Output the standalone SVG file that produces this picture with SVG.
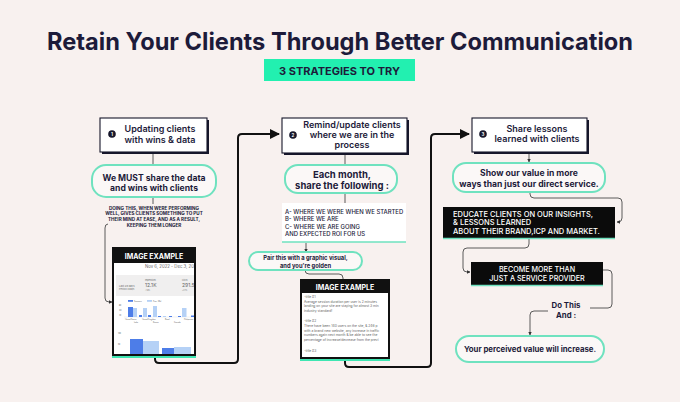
<svg xmlns="http://www.w3.org/2000/svg" width="680" height="402" viewBox="0 0 680 402">
<style>
.t{font-family:Inter,"Open Sans","Liberation Sans",sans-serif;fill:#1d1b3a}
.b{font-weight:700}
.sb{font-weight:600}
.box{fill:#fff;stroke:#16162a;stroke-width:1.1}
.sh{fill:#16162a}
.pill{fill:#fbf8f7;stroke:#6fe2bf;stroke-width:2}
.conn{fill:none;stroke:#4a4a4a;stroke-width:0.9}
.big{fill:none;stroke:#111;stroke-width:2}
.blk{fill:#0b0b0b}
.w{fill:#fff}
.g{fill:#666}
.num{fill:#16162a}
</style>
<defs>
<marker id="ab" viewBox="0 0 10 10" refX="9" refY="5" markerWidth="5" markerHeight="5" orient="auto" markerUnits="strokeWidth"><path d="M0,0 L10,5 L0,10 z" fill="#111"/></marker>
<marker id="as" viewBox="0 0 10 10" refX="9" refY="5" markerWidth="4" markerHeight="4" orient="auto" markerUnits="strokeWidth"><path d="M0,0 L10,5 L0,10 z" fill="#333"/></marker>
<clipPath id="c1"><rect x="114" y="263" width="80" height="91"/></clipPath>
<clipPath id="c2"><rect x="302" y="293" width="86" height="64"/></clipPath>
</defs>
<rect width="680" height="402" fill="#f8f1ef"/>

<g id="title">
<text class="t b" x="340" y="50" font-size="24" text-anchor="middle" textLength="586" lengthAdjust="spacingAndGlyphs" fill="#15153a">Retain Your Clients Through Better Communication</text>
<rect x="264" y="59" width="151" height="22" fill="#22f0b0"/>
<text class="t b" x="339.5" y="74.5" font-size="11" text-anchor="middle">3 STRATEGIES TO TRY</text>
</g>

<g id="connectors">
<line class="conn" x1="153" y1="152" x2="153" y2="165"/>
<line class="conn" x1="153" y1="197" x2="153" y2="204"/>
<path class="conn" d="M108,224 Q105,224 105,228 L105,298 Q105,302 109,302 L112,302" marker-end="url(#as)"/>
<path class="big" d="M155,358 L155,359 Q155,363 159,363 L234,363 Q238,363 238,359 L238,138 Q238,134 242,134 L279,134" marker-end="url(#ab)"/>
<line class="conn" x1="345" y1="153" x2="345" y2="165"/>
<line class="conn" x1="345" y1="193" x2="345" y2="203"/>
<line class="conn" x1="306" y1="243" x2="306" y2="252" marker-end="url(#as)"/>
<path class="conn" d="M305,270 Q305,274 309,274 L339,274 Q343,274 343,278 L343,280"/>
<path class="big" d="M345,361 L345,363 Q345,367 349,367 L427,367 Q431,367 431,363 L431,138 Q431,134 435,134 L469,134" marker-end="url(#ab)"/>
<line class="conn" x1="529" y1="152" x2="529" y2="162" marker-end="url(#as)"/>
<path class="conn" d="M530,192 L530,194 Q530,198 534,198 L618,198 Q622,198 622,202 L622,218 Q622,222 618,222 L617,222" marker-end="url(#as)"/>
<path class="conn" d="M529,239 L529,244 Q529,248 525,248 L467,248 Q463,248 463,252 L463,268 Q463,272 467,272 L470,272" marker-end="url(#as)"/>
<path class="conn" d="M603,270 L608,270 Q612,270 612,274 L612,304 Q612,308 608,308 L590,308"/>
<path class="conn" d="M548,311 L534,311 Q530,311 530,315 L530,335" marker-end="url(#as)"/>
</g>

<g id="box1">
<rect class="sh" x="102" y="120" width="107" height="34"/>
<rect class="box" x="100" y="118" width="107" height="34"/>
<circle class="num" cx="112" cy="134" r="3.8"/>
<text class="t b w" x="112" y="135.6" font-size="4.5" text-anchor="middle">1</text>
<text class="t sb" x="160" y="132" font-size="9" text-anchor="middle">Updating clients</text>
<text class="t sb" x="160" y="142.5" font-size="9" text-anchor="middle">with wins &amp; data</text>
</g>

<g id="pill1">
<rect class="pill" x="92" y="165" width="124" height="32" rx="14"/>
<text class="t b" x="154" y="181" font-size="8.6" text-anchor="middle">We MUST share the data</text>
<text class="t b" x="154" y="191" font-size="8.6" text-anchor="middle">and wins with clients</text>
</g>

<g id="note1">
<text class="t b" x="154" y="209.8" font-size="4.6" text-anchor="middle">DOING THIS, WHEN WERE PERFORMING</text>
<text class="t b" x="154" y="215.4" font-size="4.6" text-anchor="middle">WELL, GIVES CLIENTS SOMETHING TO PUT</text>
<text class="t b" x="154" y="221" font-size="4.6" text-anchor="middle">THEIR MIND AT EASE, AND AS A RESULT,</text>
<text class="t b" x="154" y="226.6" font-size="4.6" text-anchor="middle">KEEPING THEM LONGER</text>
</g>

<g id="image1">
<rect x="112" y="354" width="84" height="4" fill="#3fe6b2"/>
<rect x="113" y="248" width="82" height="107" fill="#fff" stroke="#111" stroke-width="2"/>
<rect x="113" y="248" width="82" height="15" fill="#111"/>
<text class="t b w" x="154" y="258.5" font-size="7" text-anchor="middle">IMAGE EXAMPLE</text>
<g clip-path="url(#c1)">
<text class="t g" x="145" y="268" font-size="4.3">Nov 6, 2022 - Dec 3, 2022</text>
<rect x="116" y="275" width="80" height="21" fill="#f0efef"/>
<text class="t g" x="119" y="287" font-size="2.6">Last 28 days</text>
<text class="t g" x="119" y="290" font-size="1.9">Previous 28 days</text>
<text class="t g" x="145" y="280.5" font-size="1.9">Impressions</text>
<text class="t g" x="145" y="286.5" font-size="5">12.1K</text>
<text class="t g" x="145" y="290.5" font-size="1.9">-1.8%</text>
<text class="t g" x="182" y="280.5" font-size="1.9">Clicks</text>
<text class="t g" x="182" y="286.5" font-size="5">291.5</text>
<text class="t g" x="182" y="290.5" font-size="1.9">+2.1%</text>
<rect x="128" y="300" width="5" height="1.8" fill="#4d7de8"/>
<text class="t g" x="134" y="301.6" font-size="1.8">Sessions</text>
<rect x="147" y="300" width="5" height="1.8" fill="#b5d1f6"/>
<text class="t g" x="153" y="301.6" font-size="1.8">Prev. 28d</text>
<text class="t g" x="119" y="306" font-size="1.8">60</text>
<text class="t g" x="119" y="311" font-size="1.8">40</text>
<text class="t g" x="119" y="316" font-size="1.8">20</text>
<line x1="124" y1="317" x2="196" y2="317" stroke="#ccc" stroke-width="0.3"/>
<rect x="128" y="307" width="5" height="10" fill="#4d7de8"/>
<rect x="133" y="308" width="4" height="9" fill="#b5d1f6"/>
<rect x="139" y="315" width="3" height="2" fill="#4d7de8"/>
<rect x="143" y="308" width="4" height="9" fill="#b5d1f6"/>
<rect x="148" y="315" width="3" height="2" fill="#4d7de8"/>
<rect x="153" y="306" width="4" height="11" fill="#b5d1f6"/>
<rect x="158" y="316" width="3" height="1" fill="#4d7de8"/>
<rect x="163" y="316" width="3" height="1" fill="#b5d1f6"/>
<rect x="169" y="316" width="3" height="1" fill="#4d7de8"/>
<rect x="178" y="316" width="3" height="1" fill="#4d7de8"/>
<rect x="182" y="308" width="4.5" height="9" fill="#b5d1f6"/>
<rect x="191" y="315.5" width="3" height="1.5" fill="#4d7de8"/>
<rect x="195" y="308" width="4" height="9" fill="#b5d1f6"/>
<text class="t g" x="125" y="320" font-size="1.8">United States</text>
<text class="t g" x="142" y="320" font-size="1.8">United Kingdom</text>
<text class="t g" x="165" y="320" font-size="1.8">Brazil</text>
<text class="t g" x="184" y="320" font-size="1.8">Philippines</text>
<text class="t g" x="134" y="323" font-size="1.8">India</text>
<text class="t g" x="153" y="323" font-size="1.8">Russia</text>
<text class="t g" x="174" y="323" font-size="1.8">Canada</text>
<text class="t g" x="118" y="334" font-size="1.8">100</text>
<text class="t g" x="118" y="345" font-size="1.8">50</text>
<rect x="130" y="339" width="13" height="15" fill="#4d7de8"/>
<rect x="143" y="341" width="16" height="13" fill="#b5d1f6"/>
<rect x="162" y="348" width="12" height="6" fill="#4d7de8"/>
<rect x="174" y="347" width="17" height="7" fill="#b5d1f6"/>
</g>
</g>

<g id="box2">
<rect class="sh" x="284" y="120" width="125" height="35"/>
<rect class="box" x="282" y="118" width="125" height="35"/>
<circle class="num" cx="293" cy="135" r="3.8"/>
<text class="t b w" x="293" y="136.6" font-size="4.5" text-anchor="middle">2</text>
<text class="t sb" x="352" y="128" font-size="9" text-anchor="middle">Remind/update clients</text>
<text class="t sb" x="352" y="138" font-size="9" text-anchor="middle">where we are in the</text>
<text class="t sb" x="352" y="148" font-size="9" text-anchor="middle">process</text>
</g>

<g id="pill2">
<rect class="pill" x="285" y="165" width="112" height="28" rx="13"/>
<text class="t b" x="342" y="178" font-size="9.5" text-anchor="middle">Each month,</text>
<text class="t b" x="342" y="189" font-size="9.5" text-anchor="middle">share the following :</text>
</g>

<g id="list2">
<rect x="282" y="203" width="124" height="39" fill="#fff"/>
<line x1="282" y1="242" x2="406" y2="242" stroke="#6fe2bf" stroke-width="1.5"/>
<text class="t" x="285" y="213.5" font-size="5.9" font-weight="500">A- WHERE WE WERE WHEN WE STARTED</text>
<text class="t" x="285" y="221" font-size="5.9" font-weight="500">B- WHERE WE ARE</text>
<text class="t" x="285" y="228.5" font-size="5.9" font-weight="500">C- WHERE WE ARE GOING</text>
<text class="t" x="285" y="236" font-size="5.9" font-weight="500">AND EXPECTED ROI FOR US</text>
</g>

<g id="pill2b">
<rect class="pill" x="249" y="252" width="113" height="18" rx="9" stroke-width="1.6"/>
<text class="t b" x="305.5" y="260" font-size="5.8" text-anchor="middle">Pair this with a graphic visual,</text>
<text class="t b" x="305.5" y="267.5" font-size="5.8" text-anchor="middle">and you're golden</text>
</g>

<g id="image2">
<rect x="300" y="357" width="90" height="4" fill="#3fe6b2"/>
<rect x="301" y="280" width="88" height="78" fill="#fff" stroke="#111" stroke-width="2"/>
<rect x="301" y="280" width="88" height="13" fill="#111"/>
<text class="t b w" x="345" y="289.5" font-size="7" text-anchor="middle">IMAGE EXAMPLE</text>
<g clip-path="url(#c2)">
<text class="t g" x="304" y="297.5" font-size="3.3">-title #1</text>
<text class="t g" x="304" y="302.5" font-size="3.3">Average session duration per user is 2 minutes</text>
<text class="t g" x="304" y="307" font-size="3.3">landing on your site are staying for almost 3 min</text>
<text class="t g" x="304" y="311.5" font-size="3.3">industry standard!</text>
<text class="t g" x="304" y="321.5" font-size="3.3">-title #2</text>
<text class="t g" x="304" y="327" font-size="3.3">There have been 140 users on the site, &amp; 246 p</text>
<text class="t g" x="304" y="331.5" font-size="3.3">with a brand new website, any increase in traffic</text>
<text class="t g" x="304" y="336" font-size="3.3">numbers again next month &amp; be able to see the</text>
<text class="t g" x="304" y="340.5" font-size="3.3">percentage of increase/decrease from the previ</text>
<text class="t g" x="304" y="351.5" font-size="3.3">-title #3</text>
</g>
</g>

<g id="box3">
<rect class="sh" x="474" y="120" width="115" height="34"/>
<rect class="box" x="472" y="118" width="115" height="34"/>
<circle class="num" cx="483" cy="134" r="3.8"/>
<text class="t b w" x="483" y="135.6" font-size="4.5" text-anchor="middle">3</text>
<text class="t sb" x="537" y="131.5" font-size="9" text-anchor="middle">Share lessons</text>
<text class="t sb" x="537" y="142" font-size="9" text-anchor="middle">learned with clients</text>
</g>

<g id="pill3">
<rect class="pill" x="453" y="163" width="152" height="29" rx="13"/>
<text class="t b" x="529" y="176" font-size="8.6" text-anchor="middle">Show our value in more</text>
<text class="t b" x="529" y="186.5" font-size="8.6" text-anchor="middle">ways than just our direct service.</text>
</g>

<g id="educate">
<rect class="blk" x="443" y="207" width="172" height="31"/>
<line x1="443" y1="238.5" x2="615" y2="238.5" stroke="#6fe2bf" stroke-width="1.5"/>
<text class="t w" x="453" y="216.5" font-size="7.5" font-weight="500">EDUCATE  CLIENTS ON OUR INSIGHTS,</text>
<text class="t w" x="453" y="225.4" font-size="7.5" font-weight="500">&amp; LESSONS LEARNED</text>
<text class="t w" x="453" y="234.3" font-size="7.5" font-weight="500">ABOUT THEIR BRAND,ICP AND MARKET.</text>
</g>

<g id="become">
<rect class="blk" x="471" y="262" width="132" height="23"/>
<line x1="471" y1="285.5" x2="603" y2="285.5" stroke="#6fe2bf" stroke-width="1.5"/>
<text class="t w" x="537" y="271.5" font-size="7.2" font-weight="500" text-anchor="middle">BECOME MORE THAN</text>
<text class="t w" x="537" y="281" font-size="7.2" font-weight="500" text-anchor="middle">JUST A SERVICE PROVIDER</text>
</g>

<g id="dothis">
<text class="t b" x="566" y="308" font-size="7.8" text-anchor="middle">Do This</text>
<text class="t b" x="566" y="318" font-size="7.8" text-anchor="middle">And :</text>
</g>

<g id="pill4">
<rect class="pill" x="456" y="336" width="148" height="26" rx="13"/>
<text class="t b" x="530" y="352" font-size="7.8" text-anchor="middle">Your perceived value will increase.</text>
</g>
</svg>
